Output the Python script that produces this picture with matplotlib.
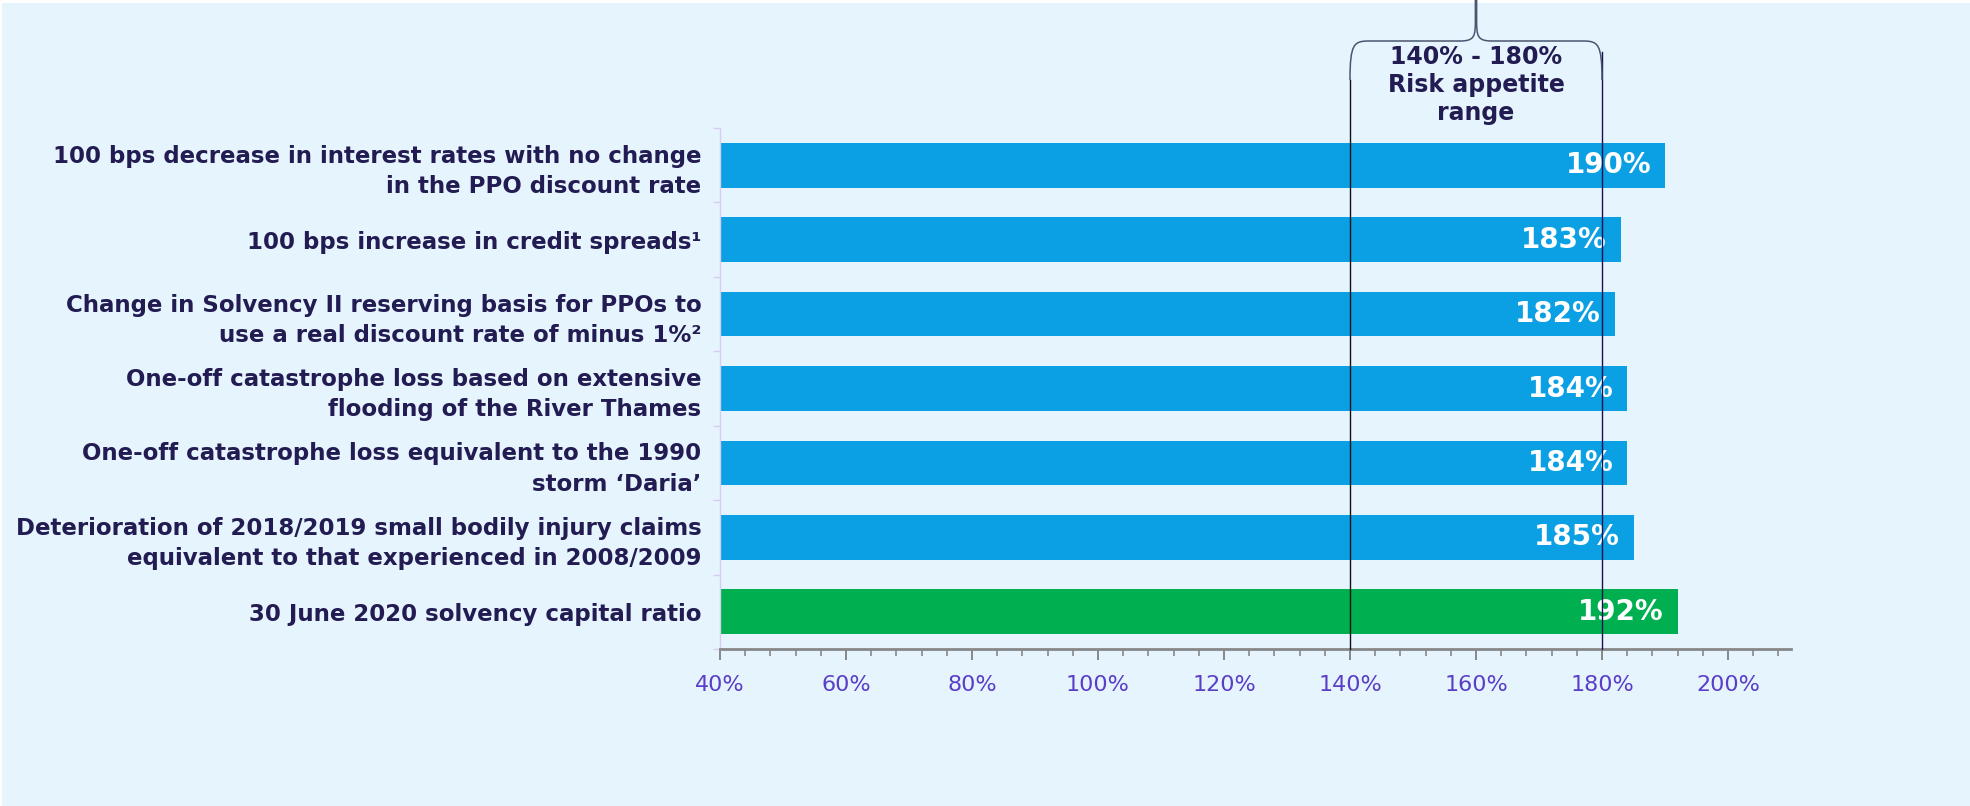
import matplotlib
matplotlib.use("Agg")
import matplotlib.pyplot as plt
from matplotlib.path import Path
from matplotlib.patches import PathPatch, Rectangle
from matplotlib.transforms import blended_transform_factory
from matplotlib.ticker import MultipleLocator, FuncFormatter

# data
labels = [
    "100 bps decrease in interest rates with no change\nin the PPO discount rate",
    "100 bps increase in credit spreads\u00b9",
    "Change in Solvency II reserving basis for PPOs to\nuse a real discount rate of minus 1%\u00b2",
    "One-off catastrophe loss based on extensive\nflooding of the River Thames",
    "One-off catastrophe loss equivalent to the 1990\nstorm \u2018Daria\u2019",
    "Deterioration of 2018/2019 small bodily injury claims\nequivalent to that experienced in 2008/2009",
    "30 June 2020 solvency capital ratio",
]
values = [190, 183, 182, 184, 184, 185, 192]
bar_colors = ["#0BA0E3"] * 6 + ["#00AF50"]
range_low, range_high = 140, 180
range_text = "140% - 180%\nRisk appetite\nrange"

bg = "#E6F4FD"
navy = "#221C52"
purple = "#5A3EC8"

fig = plt.figure(figsize=(19.7, 8.06), dpi=100, facecolor="white")
fig.patches.append(Rectangle((2 / 1970, 0), 1, 1 - 3 / 806, transform=fig.transFigure,
                             facecolor=bg, edgecolor="none", zorder=-10))

ax = fig.add_axes([720 / 1970, 1 - 649 / 806, 1071 / 1970, 521 / 806])
ax.set_facecolor("none")

y = list(range(len(labels)))
ax.barh(y, values, height=0.6, color=bar_colors, zorder=2)
ax.set_ylim(len(labels) - 0.5, -0.5)
ax.set_xlim(40, 210)

for yi, v in zip(y, values):
    ax.annotate(f"{v}%", (v, yi), xytext=(-10, 0), textcoords="offset points",
                ha="right", va="center", color="white", fontsize=20,
                fontweight="bold", zorder=3)

# category labels
ax.set_yticks(y)
ax.set_yticklabels(labels, fontsize=16.5, fontweight="bold", color=navy, linespacing=1.4)
ax.tick_params(axis="y", which="major", length=0, pad=13.5)
ax.yaxis.set_minor_locator(MultipleLocator(1, offset=0.5))
ax.tick_params(axis="y", which="minor", length=5, color="#D6CEF0", width=1)

# x axis
ax.xaxis.set_major_locator(MultipleLocator(20))
ax.xaxis.set_minor_locator(MultipleLocator(4))
ax.xaxis.set_major_formatter(FuncFormatter(lambda v, p: f"{v:.0f}%" if v <= 200 else ""))
ax.tick_params(axis="x", which="major", length=8, width=1.4, color="#888888",
               labelsize=16, labelcolor=purple, pad=11)
ax.tick_params(axis="x", which="minor", length=5, width=1.2, color="#888888")

for s in ["top", "right"]:
    ax.spines[s].set_visible(False)
ax.spines["bottom"].set_color("#888888")
ax.spines["bottom"].set_linewidth(2)
ax.spines["left"].set_color("#D6CEF0")
ax.spines["left"].set_linewidth(1)

# risk appetite range lines and brace
tr = blended_transform_factory(ax.transData, fig.transFigure)
def fy(px):
    return 1 - px / 806

ax.plot([range_low, range_low], [fy(649), fy(80)], transform=tr, color="#111111",
        lw=1, zorder=5, clip_on=False)
ax.plot([range_high, range_high], [fy(649), fy(52)], transform=tr, color="#1A1050",
        lw=1, zorder=5, clip_on=False)

mid = (range_low + range_high) / 2
verts = [
    (range_low, fy(80)), (range_low, fy(44)), (range_low + 0.6, fy(41)), (range_low + 3, fy(41)),
    (mid - 2.5, fy(41)), (mid - 0.2, fy(41)), (mid - 0.1, fy(36)), (mid - 0.1, fy(20)),
    (mid - 0.1, fy(0)),
    (mid + 0.1, fy(0)), (mid + 0.1, fy(20)),
    (mid + 0.1, fy(36)), (mid + 0.2, fy(41)), (mid + 2.5, fy(41)),
    (range_high - 3, fy(41)), (range_high - 0.6, fy(41)), (range_high, fy(44)), (range_high, fy(80)),
]
codes = [Path.MOVETO, Path.CURVE4, Path.CURVE4, Path.CURVE4,
         Path.LINETO, Path.CURVE4, Path.CURVE4, Path.CURVE4,
         Path.LINETO,
         Path.MOVETO, Path.LINETO,
         Path.CURVE4, Path.CURVE4, Path.CURVE4,
         Path.LINETO, Path.CURVE4, Path.CURVE4, Path.CURVE4]
brace = PathPatch(Path(verts, codes), transform=tr, facecolor="none",
                  edgecolor="#4A5570", lw=1.1, clip_on=False, zorder=5)
ax.add_patch(brace)

ax.text(mid, fy(85), range_text, transform=tr, ha="center", va="center",
        fontsize=17, fontweight="bold", color=navy, linespacing=1.2)

fig.savefig("out.png", dpi=100, facecolor=fig.get_facecolor())
